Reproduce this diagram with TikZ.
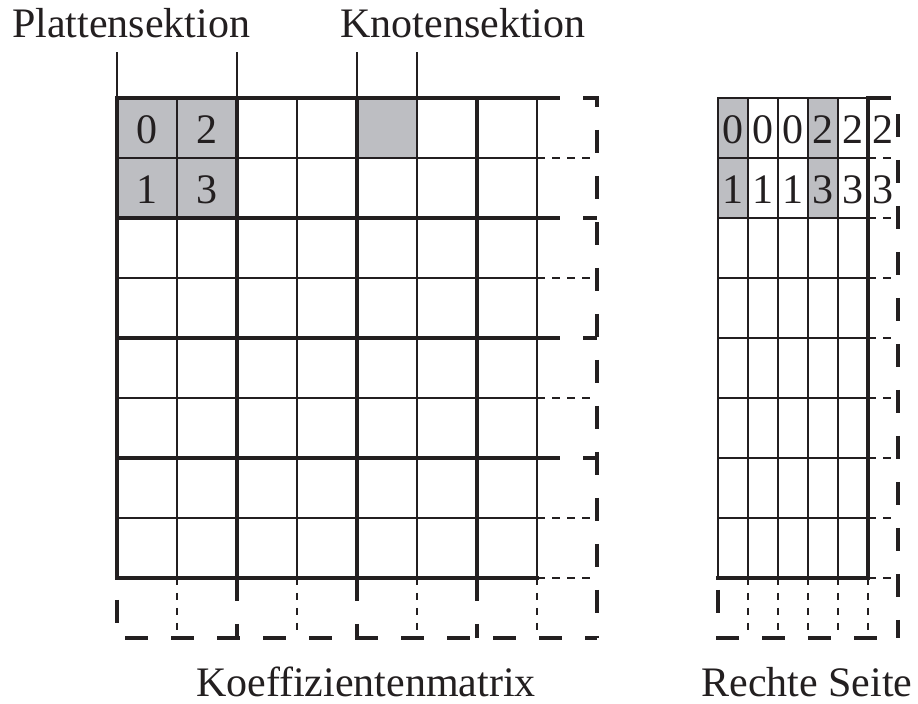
\documentclass[tikz,border=0pt]{standalone}
\usepackage{fontspec}
\setmainfont{Liberation Serif}
\usepackage{tikz}

\definecolor{lineColor}{RGB}{35,31,32}
\definecolor{shadeColor}{RGB}{189,190,194}
\tikzset{
  thinline/.style  = {draw=lineColor, line width=0.9pt, line cap=rect},
  midline/.style   = {draw=lineColor, line width=1.4pt, line cap=rect},
  thickline/.style = {draw=lineColor, line width=2pt, line cap=rect},
  dashthin/.style  = {draw=lineColor, line width=0.9pt, dash pattern=on 3.75pt off 3.75pt},
  dashthick/.style = {draw=lineColor, line width=2.2pt, dash pattern=on 11.5pt off 11.5pt},
  cellfill/.style  = {fill=shadeColor},
  lbl/.style       = {text=lineColor, inner sep=0pt, outer sep=0pt, anchor=base,
                      font=\fontsize{21}{25}\selectfont}
}

\begin{document}
\begin{tikzpicture}[x=0.5pt,y=-0.5pt]
\path[use as bounding box,fill=white] (0,0) rectangle (918,704);

% Koeffizientenmatrix: shaded cells
\path[cellfill] (117,98) rectangle (237,218);
\path[cellfill] (357,98) rectangle (417,158);

% inner grid
\foreach \x in {177,297,417} \path[thinline] (\x,98) -- (\x,578);
\foreach \y in {158,278,398,518} \path[thinline] (117,\y) -- (537,\y);
\path[midline] (537,98) -- (537,578);

% block lines
\foreach \x in {117,237,357,477} \path[thickline] (\x,98) -- (\x,578);
\foreach \y in {98,218,338,458,578} \path[thickline] (117,\y) -- (537,\y);

% open column and row
\foreach \y in {158,278,398,518,578} \path[dashthin] (537,\y) -- (597,\y);
\foreach \y in {218,338,458} \path[dashthick] (537,\y) -- (597,\y);
\foreach \x in {177,297,417,537} \path[dashthin] (\x,578) -- (\x,638);
\foreach \x in {237,357,477} \path[dashthick] (\x,578) -- (\x,638);
\path[dashthick] (537,98) -- (597,98) -- (597,638);
\path[dashthick,dash phase=12pt] (117,578) -- (117,638) -- (597,638);

% section marks
\foreach \x in {117,237,357,417} \path[thinline] (\x,53) -- (\x,98);

\node[lbl] (platten) at (131,38) {Plattensektion};
\node[lbl] (knoten) at (463,38) {Knotensektion};

\node[lbl] (k0) at (147,144) {0};
\node[lbl] (k2) at (207,144) {2};
\node[lbl] (k1) at (147,204) {1};
\node[lbl] (k3) at (207,204) {3};

% Rechte Seite
\path[cellfill] (718,98) rectangle (748,218);
\path[cellfill] (808,98) rectangle (838,218);

\foreach \x in {748,778,808,838} \path[thinline] (\x,98) -- (\x,578);
\foreach \y in {158,218,...,518} \path[thinline] (718,\y) -- (868,\y);
\path[midline] (718,578) -- (718,98) -- (868,98);
\path[thickline] (868,98) -- (868,578) -- (718,578);

\foreach \y in {158,218,...,578} \path[dashthin] (868,\y) -- (898,\y);
\foreach \x in {748,778,...,868} \path[dashthin] (\x,578) -- (\x,638);
\path[dashthick] (868,98) -- (898,98) -- (898,638);
\path[dashthick,dash phase=17pt] (718,578) -- (718,638) -- (898,638);

\foreach \d [count=\i from 0] in {0,0,0,2,2,2} {
  \node[lbl] (r\i) at (733+30*\i,144) {\d};
}
\foreach \d [count=\i from 0] in {1,1,1,3,3,3} {
  \node[lbl] (s\i) at (733+30*\i,204) {\d};
}

\node[lbl] (koeff) at (366,697) {Koeffizientenmatrix};
\node[lbl] (rhs) at (807,697) {Rechte Seite};
\end{tikzpicture}
\end{document}
